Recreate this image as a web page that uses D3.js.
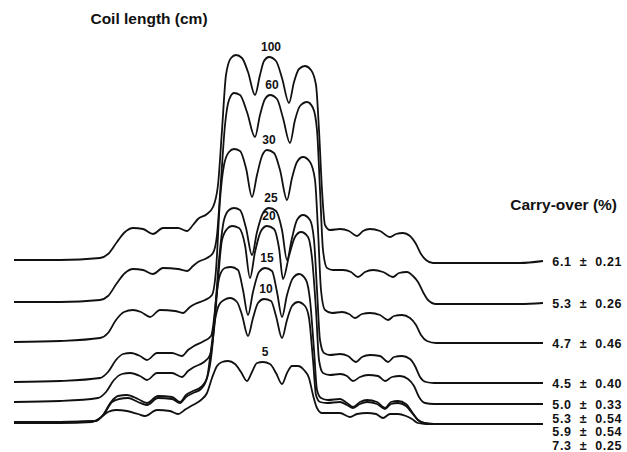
<!DOCTYPE html>
<html>
<head>
<meta charset="utf-8">
<script src="https://cdn.jsdelivr.net/npm/d3@7"></script>
<style>
  body { margin: 0; background: #fff; }
  text { font-family: "Liberation Sans", Arial, sans-serif; fill: #111; }
</style>
</head>
<body>
<svg id="chart" width="627" height="452"></svg>
<script>
// coil lengths (cm) and measured carry-over (%) for each recorder trace
var coilLengths = [100, 60, 30, 25, 20, 15, 10, 5];
var carryOver = ["6.1 ± 0.21", "5.3 ± 0.26", "4.7 ± 0.46", "4.5 ± 0.40",
                 "5.0 ± 0.33", "5.3 ± 0.54", "5.9 ± 0.54", "7.3 ± 0.25"];

// recorder traces: [time, signal]
var trace100 = [[0,180],[46,180],[86,182],[94,186],[103,198],[111,208],[119,212],[129,211],[139,206],[149,212],[164,212],[173,209],[179,215],[184,221],[193,226],[199,233],[204,255],[208,310],[212,365],[217,382],[222,385],[228,382],[234,368],[241,345],[246,365],[250,379],[255,383],[262,379],[268,362],[275,337],[280,358],[285,371],[291,374],[297,370],[302,355],[305,310],[308,250],[311,215],[316,210],[326,211],[335,209],[343,204],[349,209],[356,211],[366,209],[376,203],[382,206],[389,207],[396,204],[402,196],[407,186],[412,180],[419,177],[466,177],[506,177],[529,179]];
var trace60 = [[0,138],[46,138],[86,140],[94,144],[103,157],[111,167],[119,171],[129,170],[139,166],[149,172],[164,171],[173,169],[179,174],[184,178],[193,182],[199,187],[203,205],[207,260],[211,315],[215,340],[220,347],[226,345],[233,328],[241,303],[246,325],[251,341],[256,345],[263,341],[269,322],[276,297],[281,320],[286,334],[293,338],[299,332],[303,310],[306,250],[309,190],[313,172],[319,170],[329,170],[337,168],[344,163],[351,168],[359,170],[369,168],[379,163],[385,167],[393,168],[399,164],[404,158],[409,148],[414,140],[422,136],[466,136],[506,136],[529,137]];
var trace30 = [[0,98],[46,99],[86,102],[94,107],[102,120],[110,128],[119,130],[127,128],[136,123],[146,130],[161,129],[169,127],[176,133],[181,136],[191,140],[198,145],[202,170],[206,240],[210,275],[215,288],[220,291],[226,289],[232,272],[238,243],[243,265],[248,284],[253,290],[260,287],[266,270],[273,240],[278,262],[283,278],[289,283],[296,278],[301,260],[304,210],[307,150],[311,130],[318,127],[328,128],[335,126],[341,122],[348,126],[356,127],[366,125],[374,120],[380,124],[388,125],[396,122],[402,115],[407,105],[413,99],[422,97],[466,97],[529,97]];
var trace25 = [[0,58],[46,59],[86,62],[94,68],[102,80],[109,86],[117,87],[126,84],[133,80],[143,87],[158,87],[168,84],[174,90],[180,94],[190,99],[197,104],[201,130],[205,180],[210,220],[215,230],[220,232],[226,230],[232,212],[238,185],[243,208],[249,227],[255,232],[262,229],[268,210],[273,180],[278,202],[283,220],[289,225],[296,220],[300,200],[303,150],[306,100],[310,87],[316,85],[326,86],[334,84],[342,78],[348,83],[356,85],[366,84],[374,78],[380,83],[388,84],[396,81],[401,74],[406,63],[412,58],[420,57],[466,57],[529,57]];
var trace20 = [[0,38],[46,39],[84,42],[92,48],[100,60],[108,66],[116,67],[126,64],[133,60],[143,67],[158,67],[168,63],[174,69],[180,73],[190,78],[196,85],[200,110],[204,160],[208,200],[213,211],[218,214],[225,212],[231,195],[236,162],[241,188],[247,209],[253,214],[260,211],[265,192],[269,161],[275,184],[281,203],[287,208],[294,203],[298,182],[302,130],[305,80],[309,67],[316,65],[326,66],[333,64],[339,59],[346,63],[354,65],[364,64],[371,59],[378,63],[386,64],[394,61],[400,54],[405,43],[411,37],[420,36],[466,36],[529,36]];
var trace15 = [[0,18],[46,18],[81,19],[89,25],[97,38],[104,44],[113,45],[124,41],[133,37],[144,44],[158,43],[166,38],[172,45],[179,49],[187,53],[193,62],[198,90],[202,140],[206,165],[211,172],[217,173],[224,170],[229,150],[234,125],[239,148],[245,168],[251,172],[258,169],[263,148],[268,123],[273,145],[279,162],[285,166],[292,160],[296,140],[300,90],[303,50],[307,42],[314,40],[326,41],[333,37],[339,33],[346,38],[353,40],[363,38],[371,32],[377,38],[384,39],[392,36],[398,28],[404,20],[410,17],[420,16],[466,16],[529,16]];
var trace10 = [[0,18],[46,18],[82,19],[90,26],[98,38],[105,41],[114,42],[124,38],[133,35],[144,42],[158,41],[166,37],[172,43],[179,47],[187,51],[193,62],[197,90],[201,120],[205,135],[210,140],[216,142],[223,138],[228,125],[234,104],[239,122],[244,137],[250,141],[257,139],[262,124],[268,102],[273,120],[278,134],[284,138],[291,134],[295,122],[299,80],[302,45],[306,38],[313,37],[326,38],[333,35],[339,32],[346,36],[353,38],[363,36],[371,31],[377,36],[384,37],[392,34],[398,27],[404,20],[410,17],[420,16],[466,16],[529,16]];
var trace5 = [[0,17],[46,17],[78,18],[86,22],[94,28],[102,30],[113,29],[124,26],[131,24],[143,30],[156,29],[164,26],[172,31],[179,35],[187,40],[193,47],[198,62],[203,74],[208,78],[214,79],[221,76],[227,68],[233,59],[238,68],[243,77],[249,78],[256,76],[262,67],[268,56],[273,67],[278,74],[284,74],[290,70],[295,62],[299,45],[303,32],[308,27],[316,27],[326,27],[336,23],[343,26],[353,27],[362,26],[369,22],[376,26],[384,26],[392,24],[398,21],[404,17],[412,16],[466,16],[529,16]];

var traces = [trace100, trace60, trace30, trace25, trace20, trace15, trace10, trace5];

var svg = d3.select("#chart");

var x = d3.scaleLinear().domain([0, 530]).range([14, 544]);
var y = d3.scaleLinear().domain([0, 420]).range([440, 20]);

var line = d3.line()
  .x(function (d) { return x(d[0]); })
  .y(function (d) { return y(d[1]); })
  .curve(d3.curveMonotoneX);

svg.selectAll("path.trace")
  .data(traces)
  .enter()
  .append("path")
  .attr("class", "trace")
  .attr("d", line)
  .attr("fill", "none")
  .attr("stroke", "#111")
  .attr("stroke-width", 1.8)
  .attr("stroke-linejoin", "round");

// coil length label sits above the middle lobe of each peak
svg.selectAll("text.coil")
  .data(traces)
  .enter()
  .append("text")
  .attr("class", "coil")
  .attr("x", function (d) {
    var top = middleLobe(d);
    return x(top[0]) + 2;
  })
  .attr("y", function (d) {
    var top = middleLobe(d);
    return y(top[1]) - 10;
  })
  .attr("dy", "0.35em")
  .attr("text-anchor", "middle")
  .attr("font-size", 12)
  .attr("font-weight", "bold")
  .text(function (d, i) { return coilLengths[i]; });

// carry-over values at the end of each trace; the bottom ones are stacked
var labelY = [];
traces.forEach(function (d, i) {
  var endY = y(d[d.length - 1][1]) + 1;
  if (i < 5) labelY.push(endY);
  else labelY.push(labelY[i - 1] + 13.5);
});

svg.selectAll("text.carry")
  .data(carryOver)
  .enter()
  .append("text")
  .attr("class", "carry")
  .attr("x", 622)
  .attr("y", function (d, i) { return labelY[i]; })
  .attr("dy", "0.35em")
  .attr("text-anchor", "end")
  .attr("font-size", 12.5)
  .attr("font-weight", "bold")
  .attr("letter-spacing", 0.6)
  .style("white-space", "pre")
  .text(function (d) { return d.replace(" ± ", "  ±  "); });

svg.append("text")
  .attr("x", 149)
  .attr("y", 24)
  .attr("text-anchor", "middle")
  .attr("font-size", 15.5)
  .attr("font-weight", "bold")
  .text("Coil length (cm)");

svg.append("text")
  .attr("x", 617)
  .attr("y", 210)
  .attr("text-anchor", "end")
  .attr("font-size", 15.5)
  .attr("font-weight", "bold")
  .text("Carry-over (%)");

function middleLobe(d) {
  var best = null;
  d.forEach(function (p) {
    if (p[0] >= 245 && p[0] <= 262 && (!best || p[1] > best[1])) best = p;
  });
  return best;
}
</script>
</body>
</html>
